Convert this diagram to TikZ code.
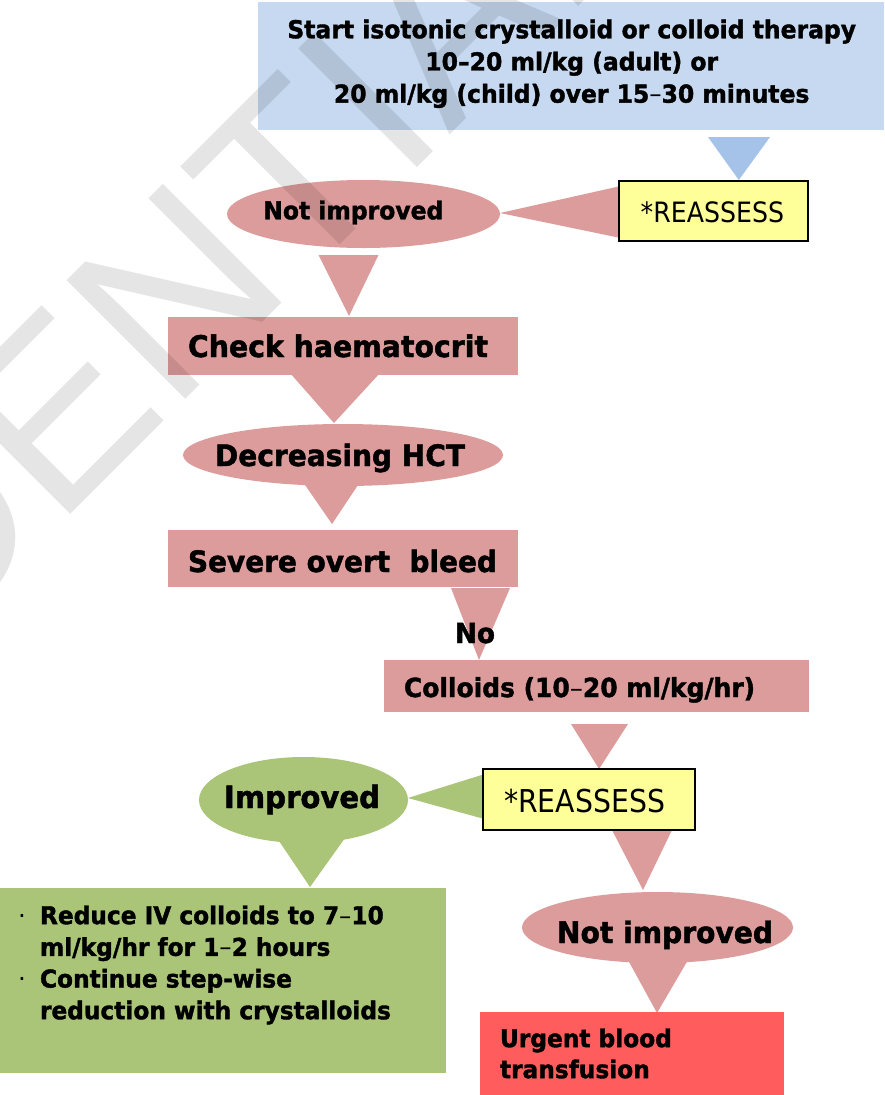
\documentclass[tikz,border=0pt]{standalone}
\usepackage{fontspec}
\setmainfont{DejaVu Sans}[BoldFeatures={FakeStretch=0.95,FakeBold=1.5}]
\newfontfamily\notefont{DejaVu Sans}[FakeStretch=0.9]
\newfontfamily\stampfont{Liberation Sans}
\usetikzlibrary{shapes.geometric,calc}
\pgfdeclarelayer{back}
\pgfsetlayers{back,main}
\definecolor{pinkc}{HTML}{DD9C9C}
\definecolor{bluec}{HTML}{C6D9F0}
\definecolor{bluetri}{HTML}{A5C3E8}
\definecolor{notec}{HTML}{FFFF99}
\definecolor{greenc}{HTML}{AAC577}
\definecolor{redc}{HTML}{FF5D5D}
% scale a one-line label to a given width (in pt)
\newcommand\fitto[2]{\resizebox{#1pt}{!}{#2}}
\begin{document}
\begin{tikzpicture}[x=1pt,y=-1pt,
  every node/.style={inner sep=0pt,outer sep=0pt},
  block/.style={rectangle},
  oval/.style={ellipse},
  notebox/.style={rectangle,fill=notec,draw=black,line width=1.8pt},
  lbl/.style={anchor=base west,font=\bfseries},
  notelbl/.style={anchor=base west,font=\notefont},
  wedge/.style={fill=pinkc},
  gwedge/.style={fill=greenc},
]
\useasboundingbox (0,0) rectangle (884,1095);

% ---- shapes ----
\node[block,fill=bluec,minimum width=626pt,minimum height=128pt] (start) at (571,66) {};
\node[notebox,minimum width=189pt,minimum height=60pt] (re1) at (713.8,211) {};
\node[oval,fill=pinkc,minimum width=273pt,minimum height=68pt] (ni1) at (363.5,214) {};
\node[block,fill=pinkc,minimum width=350pt,minimum height=58pt] (chk) at (343,346) {};
\node[oval,fill=pinkc,minimum width=320pt,minimum height=62pt] (dec) at (343,455) {};
\node[block,fill=pinkc,minimum width=350pt,minimum height=57pt] (sev) at (343,558.5) {};
\node[block,fill=pinkc,minimum width=425pt,minimum height=52pt] (col) at (596.5,686) {};
\node[notebox,minimum width=212pt,minimum height=61pt] (re2) at (589,799.5) {};
\node[oval,fill=greenc,minimum width=209pt,minimum height=86pt] (imp) at (303.5,800) {};
\node[block,fill=greenc,minimum width=446pt,minimum height=185pt] (grn) at (223,980.5) {};
\node[oval,fill=pinkc,minimum width=271pt,minimum height=71pt] (ni2) at (657.5,927.5) {};
\node[block,fill=redc,minimum width=304pt,minimum height=83pt] (urg) at (632,1053.5) {};

% ---- wedge connectors, behind the shapes ----
\begin{pgfonlayer}{back}
\fill[white] (0,0) rectangle (884,1095);
\fill[bluetri] ($(start.south)+(137,7)$) -- ($(start.south)+(199,7)$) -- ($(re1.north)+(25,-1)$) -- cycle;
\fill[wedge] ($(ni1.east)+(0,-1)$) -- ($(re1.west)+(6,-26)$) -- ($(re1.west)+(6,28)$) -- cycle;
\fill[wedge] ($(ni1.south)+(-45,7)$) -- ($(ni1.south)+(15,7)$) -- ($(chk.north)+(6,-1)$) -- cycle;
\fill[wedge] ($(chk.south)+(-53,-2)$) -- ($(chk.south)+(37,-2)$) -- ($(dec.north)+(-9,-1)$) -- cycle;
\fill[wedge] ($(dec.south)+(-40,-4)$) -- ($(dec.south)+(17,-4)$) -- ($(sev.north)+(-11,-6)$) -- cycle;
\fill[wedge] ($(sev.south)+(108,1)$) -- ($(sev.south)+(167,1)$) -- ($(col.north)+(-117.5,0)$) -- cycle;
\fill[wedge] ($(col.south)+(-25.5,12)$) -- ($(col.south)+(31.5,12)$) -- ($(re2.north)+(10,0)$) -- cycle;
\fill[gwedge] ($(imp.east)+(0,-2)$) -- ($(re2.west)+(5,-26.5)$) -- ($(re2.west)+(5,20.5)$) -- cycle;
\fill[gwedge] ($(imp.south)+(-26.5,-5)$) -- ($(imp.south)+(41.5,-5)$) -- ($(grn.north)+(87,-1)$) -- cycle;
\fill[wedge] ($(re2.south)+(23,0)$) -- ($(re2.south)+(83,0)$) -- ($(ni2.north)+(-14.5,-2)$) -- cycle;
\fill[wedge] ($(ni2.south)+(-29.5,-3)$) -- ($(ni2.south)+(30.5,-3)$) -- ($(urg.north)+(25,1)$) -- cycle;
\end{pgfonlayer}

% ---- labels ----
\node[anchor=north,align=center,font=\bfseries\fontsize{24.7}{32.2}\selectfont] (t0) at (571.7,19.5)
  {Start isotonic crystalloid or colloid therapy\\10–20 ml/kg (adult) or\\20 ml/kg (child) over 15{\mdseries–}30 minutes};
\node[notelbl] (t1) at (640.7,222.7) {\fitto{143.3}{*REASSESS}};
\node[lbl] (t2) at (263.3,219.3) {\fitto{180}{Not improved}};
\node[lbl] (t3) at (188,357) {\fitto{300}{Check haematocrit}};
\node[lbl] (t4) at (215,466) {\fitto{250}{Decreasing HCT}};
\node[lbl] (t5) at (188,572) {\fitto{309}{Severe overt\ \ bleed}};
\node[lbl] (t6) at (455,643) {\fitto{40}{No}};
\node[lbl] (t7) at (404,697) {\fitto{351}{Colloids (10{\mdseries–}20 ml/kg/hr)}};
\node[notelbl] (t8) at (504,812) {\fitto{161}{*REASSESS}};
\node[lbl] (t9) at (224,808) {\fitto{156}{Improved}};
\node[anchor=north west,align=left,font=\bfseries\fontsize{24.5}{31.7}\selectfont] (t10) at (18,905.5)
  {\makebox[22pt][l]{\mdseries·}Reduce IV colloids to 7{\mdseries–}10\\
   \hspace*{22pt}ml/kg/hr for 1{\mdseries–}2 hours\\
   \makebox[22pt][l]{\mdseries·}Continue step-wise\\
   \hspace*{22pt}reduction with crystalloids};
\node[lbl] (t11) at (557,943) {\fitto{216}{Not improved}};
\node[anchor=north west,align=left,font=\bfseries\fontsize{24.5}{31}\selectfont] (t12) at (500,1028.5)
  {Urgent blood\\transfusion};

% ---- watermark stamp ----
\node[anchor=base west,rotate=45,font=\stampfont\fontsize{244}{244}\selectfont,text=black,text opacity=0.1] (stamp) at (-605,1190) {CONFIDENTIAL};
\end{tikzpicture}
\end{document}
